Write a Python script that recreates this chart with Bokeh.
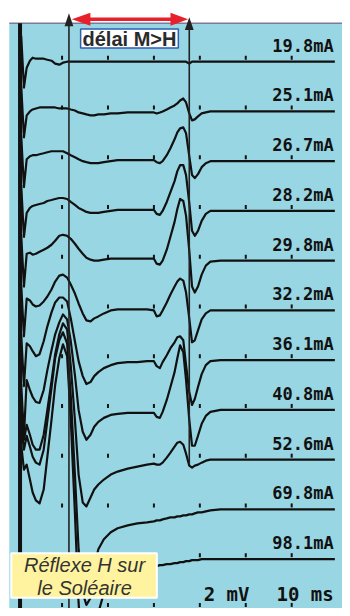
from bokeh.plotting import figure
from bokeh.models import Range1d
from bokeh.embed import file_html
from bokeh.resources import INLINE
from bokeh.core.properties import value

# ---------------- data ----------------
CURRENTS = ["19.8mA", "25.1mA", "26.7mA", "28.2mA", "29.8mA", "32.2mA",
            "36.1mA", "40.8mA", "52.6mA", "69.8mA", "98.1mA"]

TIME_MS = [1.1, 1.7, 2.3, 3.0, 3.6, 4.3, 5.1, 6.0, 6.8, 7.7,
           8.5, 9.4, 10.2, 11.1, 11.9, 12.8, 13.6, 14.5, 15.3, 16.2,
           17.0, 17.9, 19.1, 20.6, 22.1, 24.3, 26.4, 28.5, 30.0, 30.6,
           31.3, 31.9, 32.8, 33.6, 34.5, 35.1, 35.7, 36.4, 37.0, 37.7,
           38.3, 38.9, 39.6, 40.4, 41.3, 42.3, 44.5, 49.8, 69.4]

SWEEP_00 = [2.6, -2.6, -0.6, 0.1, 0.4, 0.3, 0.3, 0.3, 0.2, 0.1,
            -0.2, -0.3, -0.1, 0.0, 0.0, 0.0, 0.0, 0.0, 0.0, 0.0,
            0.0, 0.0, 0.0, 0.0, 0.0, 0.0, 0.0, 0.0, 0.0, 0.0,
            0.0, 0.0, 0.0, 0.0, 0.0, 0.0, 0.0, 0.0, 0.0, -0.2,
            0.0, 0.0, 0.0, 0.0, 0.0, 0.0, 0.0, 0.0, 0.0]
SWEEP_01 = [2.6, -2.6, -0.4, 0.0, 0.2, 0.3, 0.4, 0.4, 0.4, 0.4,
            0.4, 0.3, 0.3, 0.3, 0.2, 0.1, -0.1, -0.2, -0.3, -0.4,
            -0.4, -0.3, -0.3, -0.2, -0.2, -0.1, -0.1, -0.1, -0.1, -0.2,
            -0.1, 0.0, 0.2, 0.4, 0.6, 0.8, 1.1, 1.3, 0.9, -0.2,
            -0.9, -0.8, -0.5, -0.2, -0.1, 0.0, 0.0, 0.0, 0.0]
SWEEP_02 = [2.6, -2.6, 0.2, 0.5, 0.6, 0.6, 0.7, 0.8, 0.9, 1.0,
            1.0, 1.0, 1.0, 0.8, 0.6, 0.4, 0.2, 0.0, -0.1, -0.2,
            -0.2, -0.2, -0.1, 0.0, 0.1, 0.1, 0.1, 0.1, 0.1, -0.1,
            -0.2, 0.0, 0.6, 1.3, 2.2, 2.9, 3.3, 3.4, 2.8, 0.5,
            -1.4, -1.7, -1.3, -0.6, -0.2, 0.0, 0.0, 0.0, 0.0]
SWEEP_03 = [2.6, -2.6, -0.2, 0.3, 0.5, 0.6, 0.7, 0.8, 1.0, 1.1,
            1.2, 1.3, 1.3, 1.2, 0.9, 0.6, 0.3, 0.1, -0.1, -0.2,
            -0.2, -0.2, -0.1, 0.0, 0.1, 0.1, 0.1, 0.1, 0.1, -0.3,
            -0.4, 0.0, 0.9, 1.9, 3.0, 4.0, 4.6, 4.6, 3.6, 0.8,
            -2.0, -2.5, -2.0, -1.0, -0.3, 0.0, 0.0, 0.0, 0.0]
SWEEP_04 = [2.6, -2.6, 0.7, 0.8, 0.6, 0.7, 0.9, 1.1, 1.3, 1.6,
            2.0, 2.5, 2.6, 2.5, 2.2, 1.7, 1.2, 0.7, 0.3, 0.1,
            0.0, 0.0, 0.1, 0.2, 0.2, 0.2, 0.2, 0.2, 0.2, -0.3,
            -0.4, 0.0, 1.1, 2.4, 3.9, 5.2, 6.2, 6.0, 4.5, 1.0,
            -2.6, -3.2, -2.6, -1.4, -0.5, -0.1, 0.0, 0.0, 0.0]
SWEEP_05 = [2.6, -2.6, 1.2, 1.0, 0.6, 0.4, 0.5, 0.9, 1.4, 2.1,
            2.9, 3.5, 3.6, 3.3, 2.6, 1.7, 0.7, -0.3, -1.0, -1.1,
            -0.8, -0.6, -0.3, 0.0, 0.1, 0.1, 0.1, 0.1, 0.0, -0.6,
            -0.5, 0.0, 0.8, 1.6, 2.4, 2.9, 3.2, 3.0, 1.8, -0.8,
            -3.2, -3.0, -2.0, -0.9, -0.3, 0.0, 0.0, 0.0, 0.0]
SWEEP_06 = [2.6, -2.6, 1.7, 1.4, 0.9, 0.4, 0.6, 1.9, 3.4, 4.8,
            5.8, 6.3, 6.3, 5.9, 4.2, 1.9, -0.1, -1.6, -2.4, -2.2,
            -1.6, -1.2, -0.8, -0.5, -0.3, -0.2, -0.2, -0.1, -0.1, -0.6,
            -0.8, -0.2, 0.5, 1.2, 1.8, 2.3, 2.4, 2.0, -0.5, -3.2,
            -4.5, -3.9, -2.7, -1.4, -0.5, -0.1, 0.0, 0.0, 0.0]
SWEEP_07 = [2.6, -2.6, 3.0, 2.0, 1.3, 0.8, 0.7, 2.0, 4.0, 6.0,
            7.6, 8.8, 9.6, 9.1, 6.9, 3.5, 0.0, -2.2, -3.0, -2.5,
            -1.7, -1.2, -0.8, -0.5, -0.4, -0.3, -0.3, -0.3, -0.3, -0.7,
            -0.8, -0.2, 1.0, 2.3, 3.8, 5.2, 6.5, 5.8, 3.0, -1.0,
            -3.6, -3.6, -2.6, -1.4, -0.6, -0.2, 0.0, 0.0, 0.0]
SWEEP_08 = [4.5, 2.0, 3.5, 2.5, 1.5, 1.0, 1.0, 2.5, 5.0, 7.9,
            10.6, 12.6, 13.7, 13.1, 9.4, 4.0, -1.5, -4.3, -4.7, -3.8,
            -3.0, -2.5, -2.0, -1.5, -1.2, -0.9, -0.7, -0.5, -0.4, -0.5,
            -0.5, -0.3, 0.2, 0.7, 1.3, 1.7, 1.8, 1.5, 0.6, -0.6,
            -0.8, -0.6, -0.5, -0.3, -0.1, 0.0, 0.0, 0.0, 0.0]
SWEEP_09 = [8.4, 6.0, 7.4, 6.3, 5.3, 4.7, 4.5, 6.0, 8.9, 12.2,
            15.2, 17.0, 17.8, 16.7, 11.4, 3.5, -4.0, -8.4, -9.6, -8.9,
            -5.7, -4.0, -3.0, -2.3, -1.9, -1.6, -1.4, -1.3, -1.2, -1.1,
            -1.1, -1.0, -0.9, -0.8, -0.8, -0.7, -0.7, -0.6, -0.6, -0.5,
            -0.5, -0.4, -0.3, -0.3, -0.2, -0.1, 0.0, 0.0, 0.0]
SWEEP_10 = [11.5, 9.0, 9.5, 8.0, 6.7, 5.9, 5.6, 7.0, 10.3, 14.0,
            17.5, 20.2, 21.6, 20.4, 14.0, 4.6, -4.4, -10.3, -12.3, -10.8,
            -7.8, -5.4, -3.4, -2.2, -1.6, -1.2, -1.0, -0.8, -0.7, -0.7,
            -0.6, -0.6, -0.5, -0.5, -0.4, -0.4, -0.3, -0.3, -0.2, -0.2,
            -0.1, -0.1, -0.1, 0.0, 0.0, 0.0, 0.0, 0.0, 0.0]

SWEEPS = [SWEEP_00, SWEEP_01, SWEEP_02, SWEEP_03, SWEEP_04, SWEEP_05,
          SWEEP_06, SWEEP_07, SWEEP_08, SWEEP_09, SWEEP_10]

GRID_MS = [10, 20, 30, 40, 50, 60]
GRID_ROWS = 12
SWEEP_GAP_MV = 5.0
STIM_MS = 0.85
M_LATENCY_MS = 11.5
H_LATENCY_MS = 37.7
SCALE_LABELS = ["2 mV", "10 ms"]
DELAY_LABEL = "délai M>H"
BOX_LINES = ["Réflexe H sur", "le Soléaire"]

for s in SWEEPS:
    assert len(s) == len(TIME_MS)

# ---------------- layout helpers (reference pixels -> data) ----------------
W, H = 342, 608


def px(x):
    return (x - 16) / 4.7


def py(y):
    return (62 - y) / 10.08


BLUE = "#98d6e3"
INK = "#111111"

p = figure(width=W, height=H,
           x_range=Range1d(px(0), px(350)), y_range=Range1d(py(616), py(0)),
           output_backend="svg", toolbar_location=None,
           x_axis_location=None, y_axis_location=None,
           min_border=0, outline_line_color=None,
           background_fill_color="white", border_fill_color="white")
p.grid.visible = False

# panel
p.quad(left=[px(9)], right=[px(351)], bottom=[py(617)], top=[py(23)],
       fill_color=BLUE, line_color=None)
p.segment(x0=[px(9)], y0=[py(23)], x1=[px(351)], y1=[py(23)],
          line_color="#7a7a9c", line_width=1.5)

# grid dots
gx, gy = [], []
for r in range(GRID_ROWS):
    for t in GRID_MS:
        gx.append(t)
        gy.append(-r * SWEEP_GAP_MV + 0.4)
p.rect(x=gx, y=gy, width=2, height=4, width_units="screen",
       height_units="screen", fill_color=INK, line_color=None)

# sweeps
for i, s in enumerate(SWEEPS):
    p.line(TIME_MS, [v - i * SWEEP_GAP_MV for v in s], line_color=INK,
           line_width=2.2, line_join="round")

# stimulus line
p.segment(x0=[STIM_MS], y0=[py(23)], x1=[STIM_MS], y1=[py(617)],
          line_color=INK, line_width=4)

# latency lines with arrow heads
hw = 4.5 / 4.7
p.segment(x0=[M_LATENCY_MS, H_LATENCY_MS], y0=[py(24), py(28)],
          x1=[M_LATENCY_MS, H_LATENCY_MS], y1=[py(617), py(470)],
          line_color="#222222", line_width=1.6)
p.patches(xs=[[M_LATENCY_MS - hw, M_LATENCY_MS, M_LATENCY_MS + hw],
              [H_LATENCY_MS - hw, H_LATENCY_MS, H_LATENCY_MS + hw]],
          ys=[[py(26), py(13), py(26)], [py(30), py(17), py(30)]],
          fill_color="#222222", line_color=None)

# red double arrow
RED = "#e8202a"
p.segment(x0=[px(88)], y0=[py(19)], x1=[px(178)], y1=[py(19)],
          line_color=RED, line_width=3.5)
p.patches(xs=[[px(73), px(92), px(92)], [px(192), px(174), px(174)]],
          ys=[[py(19), py(12.5), py(25.5)], [py(19), py(12.5), py(25.5)]],
          fill_color=RED, line_color=None)

# delay label
p.quad(left=[px(82)], right=[px(182)], top=[py(29)], bottom=[py(48)],
       fill_color="white", line_color="#2f5fb0", line_width=1.5)
p.text(x=[px(132)], y=[py(39)], text=[DELAY_LABEL],
       text_font=value("Liberation Sans"), text_font_style="bold",
       text_font_size="20px", text_align="center", text_baseline="middle",
       text_color="#2b2b2b")

# current labels
p.text(x=[px(341)] * len(CURRENTS),
       y=[-i * SWEEP_GAP_MV + 1.62 for i in range(len(CURRENTS))],
       text=CURRENTS, text_font=value("DejaVu Sans Mono"),
       text_font_style="bold", text_font_size="17px", text_align="right",
       text_baseline="middle", text_color=INK)

# yellow box
p.quad(left=[px(11)], right=[px(160)], top=[py(560)], bottom=[py(605)],
       fill_color="#fff3a0", line_color="white", line_width=2)
p.text(x=[px(86), px(86)], y=[py(572), py(595)], text=BOX_LINES,
       text_font=value("Liberation Sans"), text_font_style="italic",
       text_font_size="20px", text_align="center", text_baseline="middle",
       text_color="#333333")

# scale labels
p.text(x=[px(208)], y=[py(601)], text=[SCALE_LABELS[0]],
       text_font=value("DejaVu Sans Mono"), text_font_style="bold",
       text_font_size="19px", text_align="left", text_baseline="middle",
       text_color=INK)
p.text(x=[px(341)], y=[py(601)], text=[SCALE_LABELS[1]],
       text_font=value("DejaVu Sans Mono"), text_font_style="bold",
       text_font_size="19px", text_align="right", text_baseline="middle",
       text_color=INK)

open("out.html", "w").write(file_html(p, INLINE))
